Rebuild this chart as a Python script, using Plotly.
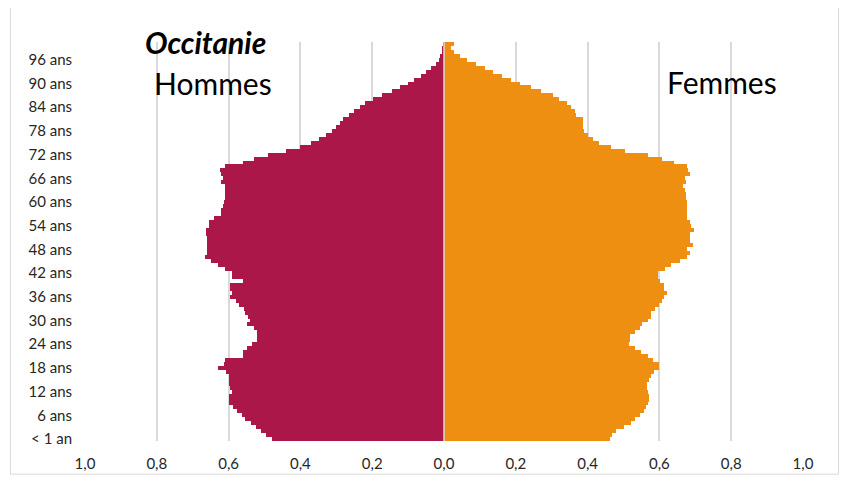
import plotly.graph_objects as go

ages = list(range(0, 101))
tick_ages = list(range(0, 97, 6))
tick_age_labels = ["< 1 an"] + [f"{a} ans" for a in tick_ages[1:]]

hommes = [
    0.480, 0.495, 0.510, 0.525, 0.537, 0.554, 0.563, 0.577, 0.588, 0.600,
    0.600, 0.600, 0.590, 0.595, 0.600, 0.600, 0.600, 0.607, 0.630, 0.612,
    0.610, 0.560, 0.560, 0.549, 0.535, 0.520, 0.520, 0.520, 0.530, 0.549,
    0.540, 0.545, 0.554, 0.556, 0.570, 0.580, 0.595, 0.590, 0.595, 0.595,
    0.560, 0.590, 0.590, 0.610, 0.630, 0.650, 0.665, 0.660, 0.660, 0.660,
    0.660, 0.660, 0.663, 0.663, 0.655, 0.655, 0.640, 0.620, 0.620, 0.615,
    0.612, 0.610, 0.610, 0.610, 0.610, 0.620, 0.615, 0.620, 0.625, 0.610,
    0.560, 0.530, 0.490, 0.440, 0.400, 0.370, 0.349, 0.330, 0.312, 0.300,
    0.290, 0.281, 0.265, 0.251, 0.234, 0.221, 0.197, 0.172, 0.144, 0.123,
    0.099, 0.084, 0.065, 0.051, 0.037, 0.023, 0.014, 0.010, 0.005, 0.003,
    0.002,
]

femmes = [
    0.461, 0.468, 0.480, 0.500, 0.520, 0.532, 0.546, 0.556, 0.563, 0.567,
    0.572, 0.572, 0.569, 0.565, 0.565, 0.572, 0.577, 0.584, 0.600, 0.598,
    0.582, 0.569, 0.548, 0.532, 0.514, 0.518, 0.518, 0.532, 0.546, 0.551,
    0.567, 0.577, 0.577, 0.588, 0.598, 0.607, 0.613, 0.620, 0.612, 0.612,
    0.602, 0.597, 0.597, 0.616, 0.632, 0.658, 0.678, 0.684, 0.678, 0.693,
    0.684, 0.684, 0.686, 0.697, 0.688, 0.686, 0.678, 0.678, 0.678, 0.676,
    0.676, 0.674, 0.674, 0.670, 0.667, 0.675, 0.672, 0.684, 0.680, 0.678,
    0.640, 0.607, 0.567, 0.504, 0.464, 0.433, 0.415, 0.400, 0.390, 0.388,
    0.386, 0.386, 0.369, 0.364, 0.355, 0.343, 0.320, 0.304, 0.271, 0.243,
    0.211, 0.186, 0.161, 0.137, 0.114, 0.088, 0.065, 0.045, 0.028, 0.019,
    0.028,
]

x_ticks = [-1.0, -0.8, -0.6, -0.4, -0.2, 0.0, 0.2, 0.4, 0.6, 0.8, 1.0]
x_tick_labels = ["1,0", "0,8", "0,6", "0,4", "0,2", "0,0", "0,2", "0,4", "0,6", "0,8", "1,0"]

COL_H = "#AB1748"
COL_F = "#EE8F12"
FONT = "Lato"

# the page body has an 8px margin, so the figure is laid out in page coords minus 8
OFF = 8
W, H = 848 - OFF, 484 - OFF
PL, PR, PT, PB = 85 - OFF, 803 - OFF, 42 - OFF, 445 - OFF  # plot area in figure px
PW, PH = PR - PL, PB - PT


def px_to_paper_x(px):
    return (px - OFF - PL) / PW


def px_to_paper_y(py):
    return (PB - (py - OFF)) / PH


fig = go.Figure()
fig.add_trace(go.Bar(
    y=ages, x=[-v for v in hommes], orientation="h", name="Hommes",
    marker=dict(color=COL_H, line=dict(width=0)),
))
fig.add_trace(go.Bar(
    y=ages, x=femmes, orientation="h", name="Femmes",
    marker=dict(color=COL_F, line=dict(width=0)),
))

fig.update_layout(
    width=W, height=H,
    margin=dict(l=PL, r=W - PR, t=PT, b=H - PB, pad=0),
    paper_bgcolor="white", plot_bgcolor="white",
    barmode="overlay", bargap=0,
    showlegend=False,
    font=dict(family=FONT, color="#262626"),
    xaxis=dict(
        range=[-1.0, 1.0], tickvals=x_ticks, ticktext=x_tick_labels,
        showgrid=True, gridcolor="#d9d9d9", gridwidth=2,
        zeroline=False, showline=False, ticks="",
        ticklabelstandoff=12, tickfont=dict(size=15, family=FONT, color="#262626"),
    ),
    yaxis=dict(
        range=[-0.5, 100.5], tickvals=tick_ages, ticktext=tick_age_labels,
        showgrid=False, zeroline=False, showline=False, ticks="",
        ticklabelstandoff=12, tickfont=dict(size=15, family=FONT, color="#262626"),
    ),
    shapes=[
        dict(type="line", xref="x", yref="paper", x0=0, x1=0, y0=0, y1=1,
             line=dict(color="#d9d9d9", width=1.5), layer="above"),
        dict(type="rect", xref="paper", yref="paper",
             x0=px_to_paper_x(10.5), x1=px_to_paper_x(838.5),
             y0=px_to_paper_y(478.5), y1=px_to_paper_y(-20),
             line=dict(color="#d9d9d9", width=1), layer="below"),
    ],
    annotations=[
        dict(text="<b><i>Occitanie</i></b>", xref="paper", yref="paper",
             x=px_to_paper_x(205), y=px_to_paper_y(42), xanchor="center", yanchor="middle",
             showarrow=False, font=dict(size=30, family=FONT, color="black")),
        dict(text="Hommes", xref="paper", yref="paper",
             x=px_to_paper_x(213), y=px_to_paper_y(83), xanchor="center", yanchor="middle",
             showarrow=False, font=dict(size=30, family=FONT, color="black")),
        dict(text="Femmes", xref="paper", yref="paper",
             x=px_to_paper_x(722), y=px_to_paper_y(82), xanchor="center", yanchor="middle",
             showarrow=False, font=dict(size=30, family=FONT, color="black")),
    ],
)

fig.write_html("out.html")
